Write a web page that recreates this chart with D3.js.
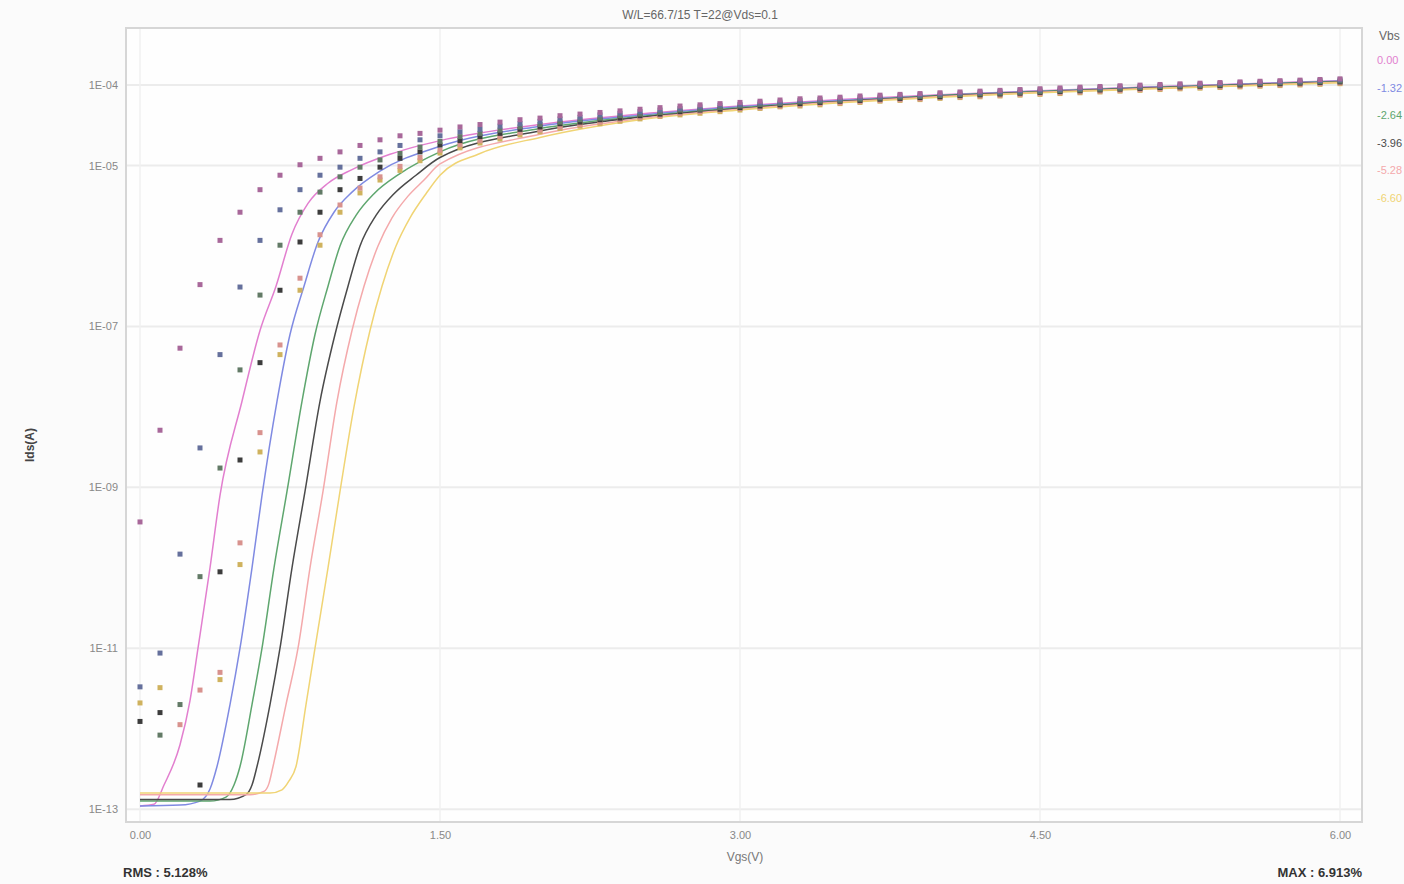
<!DOCTYPE html>
<html>
<head>
<meta charset="utf-8">
<script src="https://cdn.jsdelivr.net/npm/d3@7"></script>
<style>
  body { margin: 0; background: #fbfbfb; }
  svg { display: block; font-family: "Liberation Sans", Arial, sans-serif; }
  .tick text { fill: #888; font-size: 11px; }
</style>
</head>
<body>
<svg width="1404" height="884"></svg>
<script>
const titleText = 'W/L=66.7/15  T=22@Vds=0.1';
const xAxisLabelText = 'Vgs(V)';
const yAxisLabelText = 'Ids(A)';
const rmsText = 'RMS : 5.128%';
const maxText = 'MAX : 6.913%';

// Vbs series
const vbsLabels = ['0.00', '-1.32', '-2.64', '-3.96', '-5.28', '-6.60'];
const lineColors = ['#e27fcf', '#7f8ae2', '#5ea66e', '#4a4a4a', '#f4a9ab', '#f0d474'];
const markColors = ['#a8689a', '#65709c', '#627a66', '#3c3c3c', '#d8928e', '#cfb25e'];

const yTicks = [1e-4, 1e-5, 1e-7, 1e-9, 1e-11, 1e-13];
const xTicks = [0, 1.5, 3, 4.5, 6];

// measured Vgs steps
const vgsMeas = [0.0,0.1,0.2,0.3,0.4,0.5,0.6,0.7,0.8,0.9,1.0,1.1,1.2,1.3,1.4,1.5,1.6,1.7,1.8,1.9,
  2.0,2.1,2.2,2.3,2.4,2.5,2.6,2.7,2.8,2.9,3.0,3.1,3.2,3.3,3.4,3.5,3.6,3.7,3.8,3.9,
  4.0,4.1,4.2,4.3,4.4,4.5,4.6,4.7,4.8,4.9,5.0,5.1,5.2,5.3,5.4,5.5,5.6,5.7,5.8,5.9,6.0];

// measured log10(Ids), one list per Vbs (null = not shown)
const meas0 = [-9.43,-8.29,-7.27,-6.48,-5.93,-5.58,-5.30,-5.12,-4.99,-4.91,-4.83,-4.75,-4.68,-4.63,-4.60,-4.56,-4.52,-4.49,-4.46,-4.43,
  -4.41,-4.38,-4.36,-4.34,-4.32,-4.30,-4.28,-4.26,-4.245,-4.23,-4.215,-4.20,-4.185,-4.17,-4.16,-4.15,-4.135,-4.125,-4.115,-4.105,
  -4.095,-4.085,-4.075,-4.065,-4.055,-4.045,-4.035,-4.025,-4.017,-4.008,-4.0,-3.992,-3.984,-3.976,-3.968,-3.96,-3.952,-3.945,-3.938,-3.93,-3.922];
const meas1 = [-11.48,-11.06,-9.83,-8.51,-7.35,-6.51,-5.93,-5.55,-5.30,-5.12,-5.02,-4.91,-4.83,-4.75,-4.68,-4.63,-4.58,-4.55,-4.51,-4.48,
  -4.45,-4.42,-4.40,-4.37,-4.35,-4.33,-4.31,-4.29,-4.27,-4.25,-4.24,-4.22,-4.21,-4.19,-4.18,-4.17,-4.155,-4.145,-4.13,-4.12,
  -4.11,-4.10,-4.09,-4.08,-4.07,-4.06,-4.05,-4.04,-4.03,-4.02,-4.015,-4.005,-3.997,-3.99,-3.98,-3.972,-3.964,-3.957,-3.95,-3.942,-3.934];
const meas2 = [null,-12.08,-11.70,-10.11,-8.76,-7.54,-6.61,-5.99,-5.58,-5.33,-5.14,-5.02,-4.93,-4.85,-4.77,-4.70,-4.64,-4.60,-4.56,-4.52,
  -4.49,-4.46,-4.43,-4.41,-4.38,-4.36,-4.34,-4.31,-4.30,-4.28,-4.26,-4.24,-4.23,-4.21,-4.20,-4.19,-4.175,-4.16,-4.15,-4.14,
  -4.13,-4.12,-4.11,-4.10,-4.09,-4.08,-4.07,-4.06,-4.05,-4.04,-4.03,-4.02,-4.012,-4.004,-3.996,-3.988,-3.98,-3.972,-3.965,-3.958,-3.95];
const meas3 = [-11.91,-11.80,null,-12.70,-10.05,-8.66,-7.45,-6.55,-5.95,-5.58,-5.30,-5.16,-5.02,-4.91,-4.83,-4.745,-4.69,-4.64,-4.60,-4.55,
  -4.52,-4.48,-4.46,-4.43,-4.41,-4.38,-4.36,-4.33,-4.31,-4.30,-4.28,-4.26,-4.245,-4.23,-4.215,-4.20,-4.19,-4.175,-4.165,-4.155,
  -4.145,-4.13,-4.12,-4.11,-4.10,-4.09,-4.08,-4.07,-4.06,-4.05,-4.04,-4.03,-4.022,-4.014,-4.006,-3.998,-3.99,-3.982,-3.975,-3.968,-3.96];
const meas4 = [null,null,-11.95,-11.52,-11.30,-9.69,-8.32,-7.23,-6.40,-5.86,-5.49,-5.28,-5.14,-5.01,-4.90,-4.81,-4.74,-4.69,-4.64,-4.59,
  -4.56,-4.52,-4.49,-4.46,-4.43,-4.40,-4.38,-4.35,-4.33,-4.31,-4.29,-4.28,-4.26,-4.245,-4.23,-4.22,-4.205,-4.19,-4.18,-4.17,
  -4.155,-4.145,-4.135,-4.125,-4.115,-4.105,-4.095,-4.085,-4.075,-4.065,-4.055,-4.045,-4.036,-4.028,-4.02,-4.012,-4.004,-3.996,-3.988,-3.98,-3.972];
const meas5 = [-11.68,-11.49,null,null,-11.39,-9.96,-8.56,-7.35,-6.55,-5.99,-5.58,-5.34,-5.18,-5.06,-4.94,-4.845,-4.78,-4.72,-4.67,-4.62,
  -4.58,-4.54,-4.51,-4.48,-4.45,-4.42,-4.39,-4.37,-4.35,-4.33,-4.31,-4.29,-4.27,-4.26,-4.245,-4.23,-4.215,-4.20,-4.19,-4.18,
  -4.165,-4.155,-4.145,-4.135,-4.125,-4.115,-4.105,-4.095,-4.085,-4.075,-4.065,-4.055,-4.046,-4.038,-4.03,-4.022,-4.014,-4.006,-3.998,-3.99,-3.982];
const measSeries = [meas0, meas1, meas2, meas3, meas4, meas5];

// fitted model curves: [Vgs, log10(Ids)]
const fit0 = [[0,-12.96],[0.07,-12.94],[0.12,-12.7],[0.2,-12.2],[0.25,-11.65],[0.29,-11.0],[0.35,-10.0],[0.40,-9.1],
  [0.51,-7.93],[0.6,-7.05],[0.68,-6.5],[0.76,-5.85],[0.84,-5.47],[0.94,-5.22],[1.06,-5.05],[1.25,-4.86],[1.5,-4.69],
  [2.0,-4.49],[2.5,-4.36],[3.0,-4.26],[3.5,-4.18],[4.0,-4.12],[4.5,-4.07],[5.0,-4.025],[5.5,-3.985],[6.0,-3.945]];
const fit1 = [[0,-12.96],[0.2,-12.95],[0.3,-12.9],[0.35,-12.75],[0.385,-12.47],[0.45,-11.7],[0.50,-11.0],[0.56,-10.0],[0.61,-9.1],
  [0.685,-7.93],[0.75,-7.1],[0.82,-6.5],[0.89,-5.95],[0.97,-5.58],[1.06,-5.33],[1.2,-5.07],[1.5,-4.76],
  [2.0,-4.51],[2.5,-4.375],[3.0,-4.27],[3.5,-4.19],[4.0,-4.125],[4.5,-4.075],[5.0,-4.03],[5.5,-3.99],[6.0,-3.95]];
const fit2 = [[0,-12.9],[0.35,-12.9],[0.43,-12.85],[0.47,-12.7],[0.5,-12.47],[0.56,-11.7],[0.61,-11.0],[0.67,-10.0],[0.735,-9.05],
  [0.81,-7.93],[0.875,-7.1],[0.94,-6.5],[1.0,-6.0],[1.08,-5.62],[1.17,-5.35],[1.3,-5.1],[1.5,-4.83],
  [2.0,-4.54],[2.5,-4.39],[3.0,-4.28],[3.5,-4.20],[4.0,-4.13],[4.5,-4.08],[5.0,-4.035],[5.5,-3.995],[6.0,-3.955]];
const fit3 = [[0,-12.88],[0.45,-12.88],[0.53,-12.82],[0.56,-12.7],[0.585,-12.47],[0.65,-11.7],[0.70,-11.0],[0.76,-10.0],[0.825,-9.05],
  [0.90,-7.93],[0.975,-7.1],[1.04,-6.5],[1.10,-6.0],[1.18,-5.62],[1.27,-5.35],[1.38,-5.12],[1.5,-4.90],
  [2.0,-4.57],[2.5,-4.40],[3.0,-4.29],[3.5,-4.205],[4.0,-4.135],[4.5,-4.085],[5.0,-4.04],[5.5,-4.0],[6.0,-3.96]];
const fit4 = [[0,-12.82],[0.55,-12.82],[0.62,-12.78],[0.645,-12.68],[0.665,-12.47],[0.73,-11.7],[0.79,-11.0],[0.85,-10.0],[0.915,-9.05],
  [0.985,-7.93],[1.06,-7.05],[1.12,-6.5],[1.19,-6.0],[1.26,-5.65],[1.34,-5.38],[1.42,-5.18],[1.5,-4.98],
  [2.0,-4.61],[2.5,-4.415],[3.0,-4.30],[3.5,-4.21],[4.0,-4.14],[4.5,-4.09],[5.0,-4.045],[5.5,-4.005],[6.0,-3.965]];
const fit5 = [[0,-12.80],[0.65,-12.80],[0.71,-12.76],[0.745,-12.65],[0.78,-12.47],[0.83,-11.7],[0.875,-11.0],[0.94,-10.0],[1.0,-9.05],
  [1.07,-8.0],[1.15,-7.05],[1.21,-6.5],[1.28,-6.0],[1.35,-5.65],[1.43,-5.35],[1.5,-5.12],[1.7,-4.85],
  [2.0,-4.65],[2.5,-4.43],[3.0,-4.31],[3.5,-4.22],[4.0,-4.15],[4.5,-4.095],[5.0,-4.05],[5.5,-4.01],[6.0,-3.97]];
const fitSeries = [fit0, fit1, fit2, fit3, fit4, fit5];

const svg = d3.select('svg');
const width = +svg.attr('width');
const height = +svg.attr('height');

const margin = { top: 28, right: 42, bottom: 62, left: 126 };
const innerWidth = width - margin.left - margin.right;
const innerHeight = height - margin.top - margin.bottom;

const xScale = d3.scaleLinear()
  .domain([-0.07, 6.11])
  .range([0, innerWidth]);

const yScale = d3.scaleLog()
  .domain([Math.pow(10, -13.16), Math.pow(10, -3.29)])
  .range([innerHeight, 0]);

const g = svg.append('g')
  .attr('transform', `translate(${margin.left},${margin.top})`);

g.append('rect')
  .attr('width', innerWidth)
  .attr('height', innerHeight)
  .attr('fill', '#fefefe');

// grid
g.append('g')
  .selectAll('line').data(yTicks)
  .enter().append('line')
    .attr('x1', 0).attr('x2', innerWidth)
    .attr('y1', d => yScale(d)).attr('y2', d => yScale(d))
    .attr('stroke', '#ececec').attr('stroke-width', 2);

g.append('g')
  .selectAll('line').data(xTicks)
  .enter().append('line')
    .attr('y1', 0).attr('y2', innerHeight)
    .attr('x1', d => xScale(d)).attr('x2', d => xScale(d))
    .attr('stroke', '#f0f0f0').attr('stroke-width', 1.5);

// axes
const yAxis = d3.axisLeft(yScale)
  .tickValues(yTicks)
  .tickSize(0)
  .tickPadding(8)
  .tickFormat(d => '1E-' + String(Math.round(-Math.log10(d))).padStart(2, '0'));

const yAxisG = g.append('g').call(yAxis);
yAxisG.select('.domain').remove();

const xAxis = d3.axisBottom(xScale)
  .tickValues(xTicks)
  .tickSize(0)
  .tickPadding(9)
  .tickFormat(d3.format('.2f'));

const xAxisG = g.append('g')
  .attr('transform', `translate(0,${innerHeight})`)
  .call(xAxis);
xAxisG.select('.domain').remove();

// clip for curves
svg.append('defs').append('clipPath').attr('id', 'plot-clip')
  .append('rect').attr('width', innerWidth).attr('height', innerHeight);

const plot = g.append('g').attr('clip-path', 'url(#plot-clip)');

const lineGen = d3.line()
  .x(d => xScale(d[0]))
  .y(d => yScale(Math.pow(10, d[1])))
  .curve(d3.curveMonotoneX);

fitSeries.forEach((fit, i) => {
  plot.append('path')
    .datum(fit)
    .attr('fill', 'none')
    .attr('stroke', lineColors[i])
    .attr('stroke-width', 1.5)
    .attr('d', lineGen);
});

const markSize = 5;
measSeries.slice().reverse().forEach((vals, ri) => {
  const i = measSeries.length - 1 - ri;
  const pts = vals.map((v, k) => [vgsMeas[k], v]).filter(p => p[1] !== null);
  plot.append('g').selectAll('rect').data(pts)
    .enter().append('rect')
      .attr('x', d => xScale(d[0]) - markSize / 2)
      .attr('y', d => yScale(Math.pow(10, d[1])) - markSize / 2)
      .attr('width', markSize)
      .attr('height', markSize)
      .attr('fill', markColors[i]);
});

// frame
g.append('rect')
  .attr('width', innerWidth)
  .attr('height', innerHeight)
  .attr('fill', 'none')
  .attr('stroke', '#d6d6d6')
  .attr('stroke-width', 2);

// title and labels
svg.append('text')
  .attr('x', 700).attr('y', 19)
  .attr('text-anchor', 'middle')
  .attr('fill', '#666').attr('font-size', 12)
  .text(titleText);

svg.append('text')
  .attr('transform', `translate(34,${margin.top + innerHeight / 2 + 20}) rotate(-90)`)
  .attr('text-anchor', 'middle')
  .attr('fill', '#444').attr('font-size', 12).attr('font-weight', 'bold')
  .text(yAxisLabelText);

svg.append('text')
  .attr('x', 745).attr('y', 861)
  .attr('text-anchor', 'middle')
  .attr('fill', '#777').attr('font-size', 12)
  .text(xAxisLabelText);

svg.append('text')
  .attr('x', 123).attr('y', 877)
  .attr('fill', '#333').attr('font-size', 13).attr('font-weight', 'bold')
  .text(rmsText);

svg.append('text')
  .attr('x', 1362).attr('y', 877)
  .attr('text-anchor', 'end')
  .attr('fill', '#333').attr('font-size', 13).attr('font-weight', 'bold')
  .text(maxText);

// legend
const legend = svg.append('g').attr('transform', 'translate(1377,0)');
legend.append('text')
  .attr('x', 2).attr('y', 40)
  .attr('fill', '#666').attr('font-size', 12)
  .text('Vbs');
legend.selectAll('.entry').data(vbsLabels)
  .enter().append('text')
    .attr('class', 'entry')
    .attr('x', 0)
    .attr('y', (d, i) => 64 + i * 27.5)
    .attr('fill', (d, i) => lineColors[i])
    .attr('font-size', 11)
    .text(d => d);
</script>
</body>
</html>
